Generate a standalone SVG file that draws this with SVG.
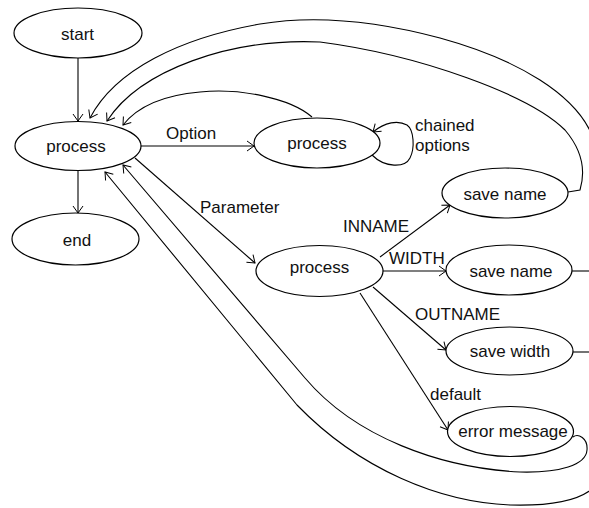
<svg xmlns="http://www.w3.org/2000/svg" width="589" height="508" viewBox="0 0 589 508">
<defs>
<marker id="arr" markerUnits="userSpaceOnUse" markerWidth="14" markerHeight="14" refX="0" refY="0" viewBox="-8 -7 10 14" orient="auto" overflow="visible">
<path d="M-7,-5 L0,0 L-7,5" fill="none" stroke="#000" stroke-width="1"/>
</marker>
<style>
.n ellipse{fill:#fff;stroke:#000;stroke-width:1.2}
text{font-family:"Liberation Sans",Arial,sans-serif;font-size:17px;fill:#111}
.c{text-anchor:middle}
.e path{fill:none;stroke:#000;stroke-width:1.1}
.a{marker-end:url(#arr)}
</style>
</defs>
<rect width="589" height="508" fill="#fff"/>
<g id="edges" class="e">
<path class="a" d="M78,58 L78,121"/>
<path class="a" d="M78,171 L78,213"/>
<path class="a" d="M141,146 L254,146"/>
<path class="a" d="M135,158 L255,263"/>
<path class="a" d="M380,257 L450,205"/>
<path class="a" d="M383,271 L446,271"/>
<path class="a" d="M373,287 L446,350"/>
<path class="a" d="M360,293 L448,430"/>
<path class="a" d="M372,155 C385,168 405,168 410,158 C415,148 414,130 407,125 C398,120 385,122 373,132"/>
<path class="a" d="M312,117 C290,98 240,88 200,92 C165,95 138,106 123,125"/>
<path class="a" d="M568,192 L580,190 C586,170 582,150 565,130 C530,95 420,55 320,42 C230,38 140,70 107,121"/>
<path class="a" d="M592,135 C575,95 520,60 440,38 C380,22 320,14 260,24 C180,38 115,70 90,118"/>
<path class="a" d="M573,437 C578,433 588,438 587,450 C586,465 560,473 520,472 C440,468 355,437 305,378 L123,165"/>
<path class="a" d="M592,489 C575,503 545,506 510,505 C440,502 360,470 297,405 L105,172"/>
<path d="M572,271 L592,271"/>
<path d="M573,352 L592,352"/>
</g>
<g id="start" class="n"><ellipse cx="78" cy="33" rx="64" ry="25"/><text class="c" x="77.5" y="40">start</text></g>
<g id="process1" class="n"><ellipse cx="78" cy="146" rx="63" ry="24.5"/><text class="c" x="76" y="152">process</text></g>
<g id="end" class="n"><ellipse cx="75.5" cy="239" rx="63.5" ry="26"/><text class="c" x="77" y="246">end</text></g>
<g id="process2" class="n"><ellipse cx="317" cy="143" rx="63" ry="25"/><text class="c" x="317" y="149">process</text></g>
<g id="process3" class="n"><ellipse cx="319.5" cy="271" rx="63.5" ry="25.5"/><text class="c" x="319.5" y="273">process</text></g>
<g id="savename1" class="n"><ellipse cx="505" cy="193" rx="63" ry="25"/><text class="c" x="505" y="200">save name</text></g>
<g id="savename2" class="n"><ellipse cx="509" cy="270" rx="63" ry="25"/><text class="c" x="511" y="277">save name</text></g>
<g id="savewidth" class="n"><ellipse cx="509.5" cy="351" rx="63.5" ry="24"/><text class="c" x="510" y="357">save width</text></g>
<g id="errormessage" class="n"><ellipse cx="510.5" cy="431.5" rx="63" ry="25"/><text class="c" x="513" y="437">error message</text></g>
<g id="labels">
<text x="166" y="139">Option</text>
<text x="415" y="130.5">chained</text>
<text x="415" y="150.5">options</text>
<text x="200" y="213">Parameter</text>
<text x="343" y="232">INNAME</text>
<text x="389" y="264">WIDTH</text>
<text x="415" y="320">OUTNAME</text>
<text x="430" y="400">default</text>
</g>
</svg>
